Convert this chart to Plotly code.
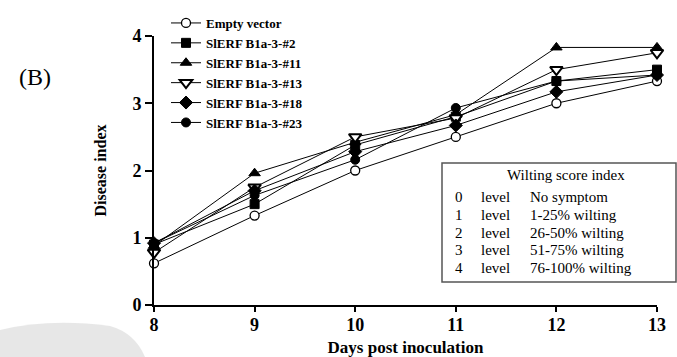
import plotly.graph_objects as go

days = [8, 9, 10, 11, 12, 13]
series_names = ["Empty vector", "SlERF B1a-3-#2", "SlERF B1a-3-#11",
                "SlERF B1a-3-#13", "SlERF B1a-3-#18", "SlERF B1a-3-#23"]
empty_vector = [0.62, 1.33, 2.00, 2.50, 3.00, 3.33]
line_2 = [0.90, 1.50, 2.38, 2.80, 3.33, 3.50]
line_11 = [0.88, 1.96, 2.42, 2.83, 3.83, 3.83]
line_13 = [0.78, 1.75, 2.50, 2.78, 3.50, 3.75]
line_18 = [0.92, 1.70, 2.28, 2.67, 3.17, 3.42]
line_23 = [0.92, 1.63, 2.16, 2.93, 3.33, 3.42]
y_ticks = [0, 1, 2, 3, 4]

score_levels = ["0", "1", "2", "3", "4"]
score_desc = ["No symptom", "1-25% wilting", "26-50% wilting", "51-75% wilting", "76-100% wilting"]

values = [empty_vector, line_2, line_11, line_13, line_18, line_23]
styles = [
    dict(symbol="circle", color="white", size=9, lw=1.3),
    dict(symbol="square", color="black", size=9, lw=1),
    dict(symbol="triangle-up", color="black", size=10, lw=1),
    dict(symbol="triangle-down", color="white", size=11, lw=2),
    dict(symbol="diamond", color="black", size=10, lw=1),
    dict(symbol="circle", color="black", size=9, lw=1),
]

fig = go.Figure()
for name, vals, st in zip(series_names, values, styles):
    fig.add_trace(go.Scatter(
        x=days, y=vals, name=name, mode="lines+markers",
        line=dict(color="black", width=1),
        marker=dict(symbol=st["symbol"], color=st["color"], size=st["size"],
                    line=dict(color="black", width=st["lw"])),
        cliponaxis=False,
    ))

L, R, T, B = 154, 657, 36, 305
W, H = 677, 357
pw, ph = R - L, B - T


def px(x):
    return (x - L) / pw


def py(y):
    return (B - y) / ph


serif = "Liberation Serif, Times New Roman, serif"

fig.update_layout(
    width=W, height=H,
    margin=dict(l=L, r=W - R, t=T, b=H - B, autoexpand=False),
    paper_bgcolor="white", plot_bgcolor="white",
    font=dict(family=serif, color="black"),
    showlegend=True,
    legend=dict(x=px(166), y=py(8), xanchor="left", yanchor="top",
                font=dict(family=serif, size=13, color="black", weight="bold"),
                bgcolor="rgba(0,0,0,0)", tracegroupgap=0, itemwidth=30),
    xaxis=dict(range=[8, 13], tickvals=days, showline=True, linecolor="black",
               linewidth=2, ticks="outside", ticklen=5, tickwidth=2, tickcolor="black",
               showgrid=False, zeroline=False, ticklabelstandoff=-3, automargin=False,
               tickfont=dict(family=serif, size=18, weight="bold"),
               title=dict(text="Days post inoculation", standoff=12,
                          font=dict(family=serif, size=17, weight="bold"))),
    yaxis=dict(range=[0, 4], tickvals=y_ticks, showline=True, linecolor="black",
               linewidth=2, ticks="outside", ticklen=7, tickwidth=2, tickcolor="black",
               showgrid=False, zeroline=False, automargin=False,
               tickfont=dict(family=serif, size=18, weight="bold"),
               title=dict(text="Disease index", standoff=22,
                          font=dict(family=serif, size=16, weight="bold"))),
)

# Wilting score box
fig.add_shape(type="rect", xref="paper", yref="paper",
              x0=px(442), x1=px(676), y0=py(282), y1=py(163),
              line=dict(color="#555555", width=1.5), fillcolor="white", layer="above")

ann = []
ann.append(dict(text="Wilting score index", x=px(566), y=py(175), xanchor="center"))
row_y = [197, 215, 233, 250, 268]
for lv, desc, ry in zip(score_levels, score_desc, row_y):
    ann.append(dict(text=lv, x=px(459), y=py(ry), xanchor="center"))
    ann.append(dict(text="level", x=px(479), y=py(ry), xanchor="left"))
    ann.append(dict(text=desc, x=px(528), y=py(ry), xanchor="left"))
for a in ann:
    fig.add_annotation(xref="paper", yref="paper", yanchor="middle", showarrow=False,
                       font=dict(family=serif, size=15, color="black"), **a)

fig.add_annotation(text="(B)", xref="paper", yref="paper", x=px(35), y=py(77),
                   xanchor="center", yanchor="middle", showarrow=False,
                   font=dict(family=serif, size=24, color="black"))

# faint grey watermark in the lower-left corner
fig.add_shape(type="path", xref="paper", yref="paper", layer="below",
              path=("M %f,%f Q %f,%f %f,%f Q %f,%f %f,%f L %f,%f Z" % (
                  px(0), py(330), px(50), py(318), px(110), py(326),
                  px(135), py(333), px(145), py(357), px(0), py(357))),
              line=dict(width=0), fillcolor="rgba(175,175,175,0.3)")

fig.write_html("out.html")
